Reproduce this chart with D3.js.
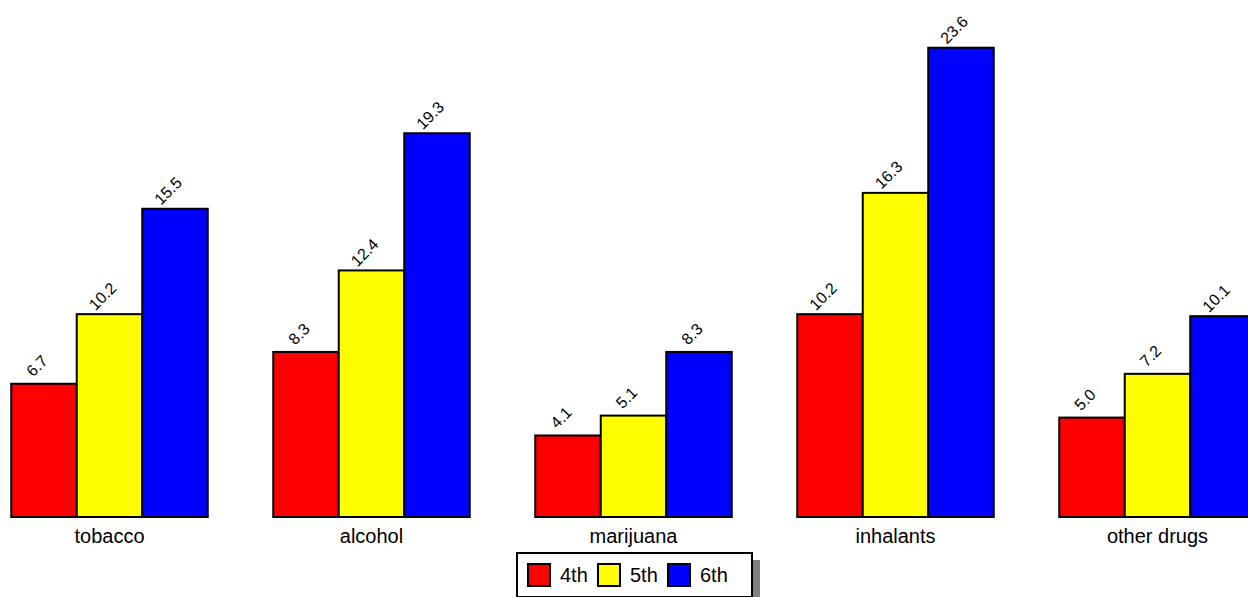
<!DOCTYPE html>
<html>
<head>
<meta charset="utf-8">
<script src="https://cdn.jsdelivr.net/npm/d3@7"></script>
<style>
  html, body { margin: 0; padding: 0; background: #fff; }
  svg { display: block; font-family: "Liberation Sans", Arial, sans-serif; }
</style>
</head>
<body>
<div id="chart"></div>
<script>
// data
const categories = ["tobacco", "alcohol", "marijuana", "inhalants", "other drugs"];
const grades = ["4th", "5th", "6th"];
const colors = ["#ff0000", "#ffff00", "#0000ff"];
const values4th = [6.7, 8.3, 4.1, 10.2, 5.0];
const values5th = [10.2, 12.4, 5.1, 16.3, 7.2];
const values6th = [15.5, 19.3, 8.3, 23.6, 10.1];
const series = [values4th, values5th, values6th];

const width = 1248, height = 597;
const baseY = 517;

const svg = d3.select("#chart").append("svg")
    .attr("width", width)
    .attr("height", height);

// scales (group step 262, last group runs past the right edge)
const x0 = d3.scaleBand()
    .domain(categories)
    .range([-21.5, 1288.5])
    .paddingInner(0.25)
    .paddingOuter(0.125);

const x1 = d3.scaleBand()
    .domain(grades)
    .range([0, x0.bandwidth()]);

const y = d3.scaleLinear()
    .domain([0, 26])
    .range([baseY, 0]);

// bars
const groups = svg.selectAll(".grp")
    .data(categories)
    .enter().append("g")
    .attr("class", "grp")
    .attr("transform", d => `translate(${x0(d)},0)`);

const cells = groups.selectAll(".bar")
    .data((c, ci) => grades.map((g, gi) => ({ grade: g, gi: gi, value: series[gi][ci] })))
    .enter();

cells.append("rect")
    .attr("x", d => x1(d.grade))
    .attr("y", d => y(d.value))
    .attr("width", x1.bandwidth())
    .attr("height", d => baseY - y(d.value))
    .attr("fill", d => colors[d.gi])
    .attr("stroke", "#000")
    .attr("stroke-width", 2);

// value labels, rotated
cells.append("text")
    .attr("transform", d => `translate(${x1(d.grade) + x1.bandwidth() / 2 - 7},${y(d.value) - 18}) rotate(-45)`)
    .attr("text-anchor", "middle")
    .attr("dy", "0.35em")
    .style("font-size", "16px")
    .style("fill", "#000")
    .text(d => d.value.toFixed(1));

// category axis labels
svg.append("g")
    .selectAll("text")
    .data(categories)
    .enter().append("text")
    .attr("x", d => x0(d) + x0.bandwidth() / 2)
    .attr("y", 543)
    .attr("text-anchor", "middle")
    .style("font-size", "20px")
    .text(d => d);

// legend
const legend = svg.append("g").attr("transform", "translate(517,553)");
legend.append("rect")
    .attr("x", 8).attr("y", 7)
    .attr("width", 235).attr("height", 44)
    .attr("fill", "#808080");
legend.append("rect")
    .attr("x", 0).attr("y", 0)
    .attr("width", 235).attr("height", 44)
    .attr("fill", "#fff")
    .attr("stroke", "#000")
    .attr("stroke-width", 2);

const item = legend.selectAll(".item")
    .data(grades)
    .enter().append("g")
    .attr("transform", (d, i) => `translate(${11 + i * 70},11)`);

item.append("rect")
    .attr("width", 22).attr("height", 22)
    .attr("fill", (d, i) => colors[i])
    .attr("stroke", "#000")
    .attr("stroke-width", 2);

item.append("text")
    .attr("x", 32).attr("y", 18)
    .style("font-size", "20px")
    .text(d => d);
</script>
</body>
</html>
